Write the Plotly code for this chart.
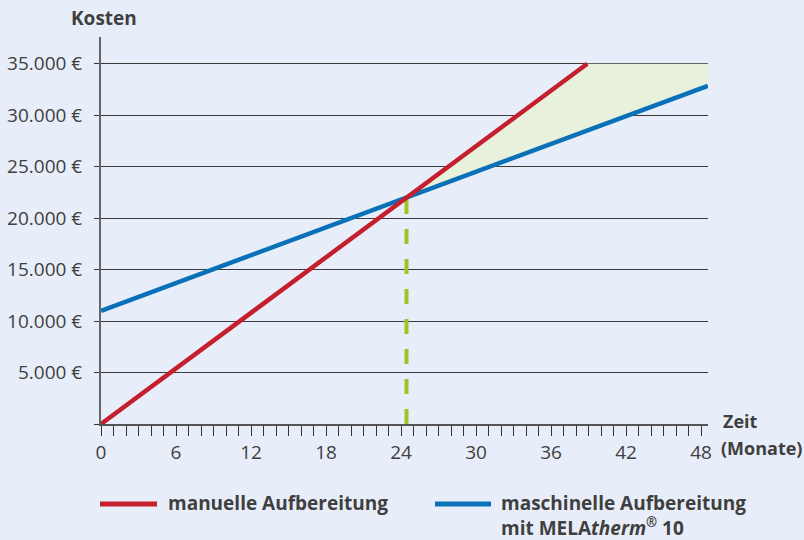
import plotly.graph_objects as go

# ---- data ----
manual_months = [0, 38.9]
manual_cost = [0, 35000]
machine_months = [0, 48.55]
machine_cost = [11000, 32850]
breakeven_month = [24.44, 24.44]
breakeven_cost = [0, 22000]
# savings area (between lines, capped at 35.000 €)
saving_months = [24.44, 38.9, 48.55]
saving_upper = [22000, 35000, 35000]
saving_lower = [22000, 28505, 32850]

y_tickvals = [5000, 10000, 15000, 20000, 25000, 30000, 35000]
y_ticktext = ["5.000 €", "10.000 €", "15.000 €", "20.000 €", "25.000 €", "30.000 €", "35.000 €"]
x_tickvals = [0, 6, 12, 18, 24, 30, 36, 42, 48]

legend_labels = ["manuelle Aufbereitung", "maschinelle Aufbereitung<br>mit MELA<i>therm</i><sup>®</sup> 10"]

RED = "#c51f2e"
BLUE = "#0a70b8"
GREEN = "#9dc327"
FILL = "#e8f1db"
BG = "#e8eef9"
TXT = "#3f3f3f"
FONT = "Open Sans"

W, H = 804, 540
L, R, T, B = 101, 96, 37, 116
PW, PH = W - L - R, H - T - B


def px(x):
    return (x - L) / PW


def py(y):
    return (H - B - y) / PH


fig = go.Figure()
fig.add_trace(go.Scatter(x=saving_months, y=saving_lower, mode="lines", line=dict(width=0),
                         hoverinfo="skip", showlegend=False))
fig.add_trace(go.Scatter(x=saving_months, y=saving_upper, mode="lines", line=dict(width=0),
                         fill="tonexty", fillcolor=FILL, hoverinfo="skip", showlegend=False))
fig.add_trace(go.Scatter(x=breakeven_month, y=breakeven_cost, mode="lines",
                         line=dict(color=GREEN, width=4, dash="15px,15px"), showlegend=False))
fig.add_trace(go.Scatter(x=machine_months, y=machine_cost, mode="lines",
                         line=dict(color=BLUE, width=4.5), showlegend=False))
fig.add_trace(go.Scatter(x=manual_months, y=manual_cost, mode="lines",
                         line=dict(color=RED, width=4.5), showlegend=False))

fig.update_layout(
    template="none",
    width=W, height=H,
    margin=dict(l=L, r=R, t=T, b=B, pad=0),
    paper_bgcolor=BG, plot_bgcolor=BG,
    font=dict(family=FONT, color=TXT, size=19),
    showlegend=False,
    xaxis=dict(range=[0, 48.56], tickvals=x_tickvals, ticks="outside", ticklen=10,
               tickcolor="#333", tickwidth=1, showgrid=False, zeroline=False, automargin=False,
               showline=True, linecolor="#555", linewidth=2,
               tickfont=dict(size=19, color=TXT),
               minor=dict(dtick=1, tick0=0, ticks="outside", ticklen=10, tickcolor="#333",
                          tickwidth=1, showgrid=False)),
    yaxis=dict(range=[0, 37600], tickvals=y_tickvals, ticktext=y_ticktext,
               ticks="outside", ticklen=5, tickcolor="#333", tickwidth=1,
               showgrid=True, gridcolor="#3a3a3a", gridwidth=1, zeroline=False, automargin=False,
               showline=True, linecolor="#666", linewidth=2,
               tickfont=dict(size=19, color=TXT), ticklabelstandoff=8,
               minor=dict(dtick=5000, tick0=0, ticks="outside", ticklen=5, tickcolor="#333",
                          tickwidth=1, showgrid=False)),
)

ann = [
    dict(text="<b>Kosten</b>", x=px(104), y=py(18.5), xanchor="center", yanchor="middle", size=19),
    dict(text="<b>Zeit</b>", x=px(721), y=py(420.5), xanchor="left", yanchor="middle", size=18),
    dict(text="<b>(Monate)</b>", x=px(719), y=py(448), xanchor="left", yanchor="middle", size=18),
    dict(text="<b>" + legend_labels[0] + "</b>", x=px(166), y=py(503), xanchor="left", yanchor="middle", size=19),
    dict(text="<b>" + legend_labels[1] + "</b>", x=px(499), y=py(515), xanchor="left", yanchor="middle", size=19),
]
for a in ann:
    fig.add_annotation(text=a["text"], x=a["x"], y=a["y"], xref="paper", yref="paper",
                       xanchor=a["xanchor"], yanchor=a["yanchor"], align="left", showarrow=False,
                       font=dict(family=FONT, size=a["size"], color=TXT))

for x0, x1, c in [(100, 157, RED), (435, 491, BLUE)]:
    fig.add_shape(type="line", xref="paper", yref="paper", x0=px(x0), x1=px(x1), y0=py(504), y1=py(504),
                  line=dict(color=c, width=5))

fig.write_html("out.html", config={"displayModeBar": False},
               post_script="document.body.style.margin='0';document.body.style.overflow='hidden';")
